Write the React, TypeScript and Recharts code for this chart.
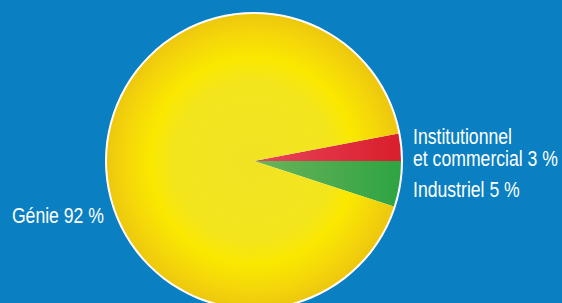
import { PieChart, Pie, Cell } from "recharts";

const sectors = ["Institutionnel et commercial", "Industriel", "Génie"];
const shares = [3, 5, 92];
const labelLines = [
  ["Institutionnel", "et commercial 3 %"],
  ["Industriel 5 %"],
  ["Génie 92 %"],
];
const fills = ["url(#redFill)", "url(#greenFill)", "url(#yellowFill)"];

const data = sectors.map((name, i) => ({ name, value: shares[i] }));
const ring = [{ name: "ring", value: 1 }];

// no narrow font installed: squeeze Liberation Sans horizontally instead
const FONT = "'Liberation Sans', Arial, sans-serif";
const SQUEEZE = 0.82;

function SliceLabel(props: any) {
  const { cx, cy, outerRadius, index } = props;
  const lines = labelLines[index];
  let x, y, anchor;
  if (index === 2) {
    x = cx - outerRadius - 3;
    y = cy + 62;
    anchor = "end";
  } else {
    x = cx + outerRadius + 12;
    y = index === 0 ? cy - 17 : cy + 36;
    anchor = "start";
  }
  return (
    <g transform={`translate(${x},${y}) scale(${SQUEEZE},1)`}>
      <text x={0} y={0} textAnchor={anchor} fill="#fff" fontSize={21.5} fontFamily={FONT}>
        {lines.map((l, i) => (
          <tspan key={i} x={0} dy={i === 0 ? 0 : 22}>
            {l}
          </tspan>
        ))}
      </text>
    </g>
  );
}

export default function App() {
  return (
    <div style={{ position: "absolute", left: 0, top: 0, width: 562, height: 303, background: "#0a7fc1", overflow: "hidden" }}>
      <PieChart width={562} height={303} margin={{ top: 0, right: 0, bottom: 0, left: 0 }}>
        <defs>
          <radialGradient id="yellowFill" cx="0.5" cy="0.5" r="0.5">
            <stop offset="0%" stopColor="#f1e324" />
            <stop offset="55%" stopColor="#f3e51c" />
            <stop offset="70%" stopColor="#fae800" />
            <stop offset="88%" stopColor="#f4d60a" />
            <stop offset="100%" stopColor="#edc80e" />
          </radialGradient>
          <linearGradient id="redFill" x1="0" y1="0" x2="1" y2="0">
            <stop offset="0%" stopColor="#e8455a" />
            <stop offset="100%" stopColor="#d91e2c" />
          </linearGradient>
          <linearGradient id="greenFill" x1="0" y1="0" x2="1" y2="0">
            <stop offset="0%" stopColor="#6cb35a" />
            <stop offset="100%" stopColor="#2ea442" />
          </linearGradient>
        </defs>
        <Pie
          data={ring}
          dataKey="value"
          cx={254}
          cy={161}
          outerRadius={149}
          fill="#ffffff"
          stroke="none"
          isAnimationActive={false}
        />
        <Pie
          data={data}
          dataKey="value"
          nameKey="name"
          cx={254}
          cy={161}
          outerRadius={147}
          startAngle={10.8}
          endAngle={-349.2}
          stroke="none"
          label={SliceLabel}
          labelLine={false}
          isAnimationActive={false}
        >
          {data.map((d, i) => (
            <Cell key={d.name} fill={fills[i]} />
          ))}
        </Pie>
      </PieChart>
    </div>
  );
}
